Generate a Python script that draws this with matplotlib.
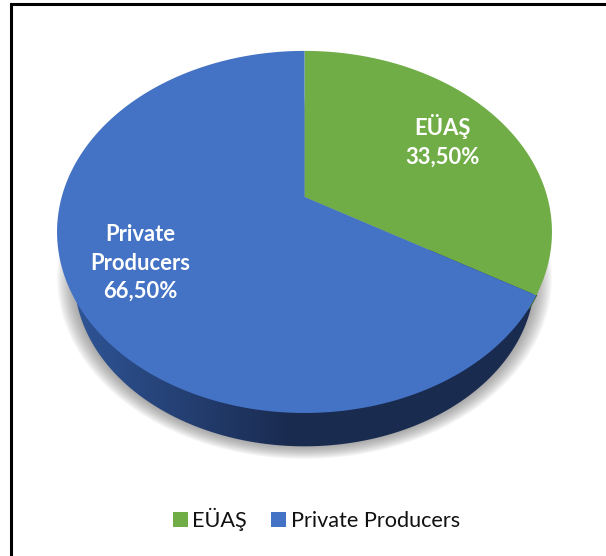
import matplotlib
matplotlib.use("Agg")
import matplotlib.pyplot as plt
import numpy as np
from matplotlib.patches import Patch, Polygon

# Tilted 3D pie, drawn by hand since matplotlib's pie is flat
categories = ["EÜAŞ", "Private Producers"]
shares = [33.5, 66.5]
value_labels = ["33,50%", "66,50%"]
top_colors = ["#70AD47", "#4472C4"]
side_colors = ["#3E6B24", "#1A2B50"]

# pie geometry in pixels
apex_x, apex_y = 304.5, 197
disk_a, disk_b = 242.8, 174.3
tilt = 0.193  # perspective, near edge looks bigger
rim_scale = 0.93  # lower rim is narrower than the top one
rim_cx, rim_cy = 304.5, 278


def disk_points(start_deg, stop_deg, n=300):
    # angles clockwise from 12 o'clock, projected through the tilt
    ang = np.radians(np.linspace(start_deg, stop_deg, n))
    u, v = np.sin(ang), np.cos(ang)
    w = 1 + tilt * v
    return apex_x + disk_a * u / w, apex_y - disk_b * v / w


def lower_rim(start_deg, stop_deg, n=300):
    x, y = disk_points(start_deg, stop_deg, n)
    top_cy = apex_y + 35
    return rim_cx + rim_scale * (x - apex_x), rim_cy + rim_scale * (y - top_cy)


fig = plt.figure(figsize=(6.06, 5.56), dpi=100)
ax = fig.add_axes([0, 0, 1, 1])
ax.set_xlim(0, 606)
ax.set_ylim(556, 0)
ax.axis("off")

# chart frame, only left and top show in the crop
ax.plot([11, 11, 606], [556, 4, 4], color="black", lw=2.2, solid_joinstyle="miter", zorder=1)

# soft shadow under the pie
sx, sy = lower_rim(0, 360)
for grow in np.linspace(1.075, 1.0, 14):
    ax.fill(rim_cx + grow * (sx - rim_cx), rim_cy + grow * (sy - rim_cy),
            color="#606060", alpha=0.05, lw=0, zorder=2)

# side wall, left part fades from mid blue to the dark navy
gradient = np.clip((np.linspace(70, 540, 470) - 70) / 220, 0, 1)[None, :]
cmap = matplotlib.colors.LinearSegmentedColormap.from_list("wall", ["#2F5597", "#1A2B50"])
wall = ax.imshow(gradient, cmap=cmap, extent=(70, 540, 450, 250), aspect="auto", zorder=3)
wall.set_clip_path(Polygon(np.column_stack(lower_rim(0, 360)), transform=ax.transData))
ax.set_xlim(0, 606)
ax.set_ylim(556, 0)

# thin dark green edge where the green slice meets the wall
green_end = 360 * shares[0] / sum(shares)
gx, gy = disk_points(green_end, green_end + 4)
ax.plot(gx, gy, color=side_colors[0], lw=1.2, zorder=3.5)

start = 0
for share, color in zip(shares, top_colors):
    stop = start + 360 * share / sum(shares)
    x, y = disk_points(start, stop)
    ax.fill(np.r_[apex_x, x], np.r_[apex_y, y], color=color, lw=0, zorder=4)
    start = stop

label_font = dict(family="Lato", weight="bold", fontsize=15.8, color="white", ha="center", va="center", zorder=5)
ax.text(442, 141, categories[0] + "\n" + value_labels[0], linespacing=1.43, **label_font)
ax.text(140.5, 263, "Private\nProducers\n" + value_labels[1], linespacing=1.43, **label_font)

handles = [Patch(color=c, lw=0) for c in top_colors]
ax.legend(handles, categories, loc="center", bbox_to_anchor=(316.5 / 606, 1 - 519.5 / 556), ncol=2, frameon=False,
          prop={"family": "Lato", "size": 15.6}, handlelength=0.68, handleheight=0.68,
          handletextpad=0.22, columnspacing=1.12, labelcolor="#111111")

fig.savefig("out.png", dpi=100)
